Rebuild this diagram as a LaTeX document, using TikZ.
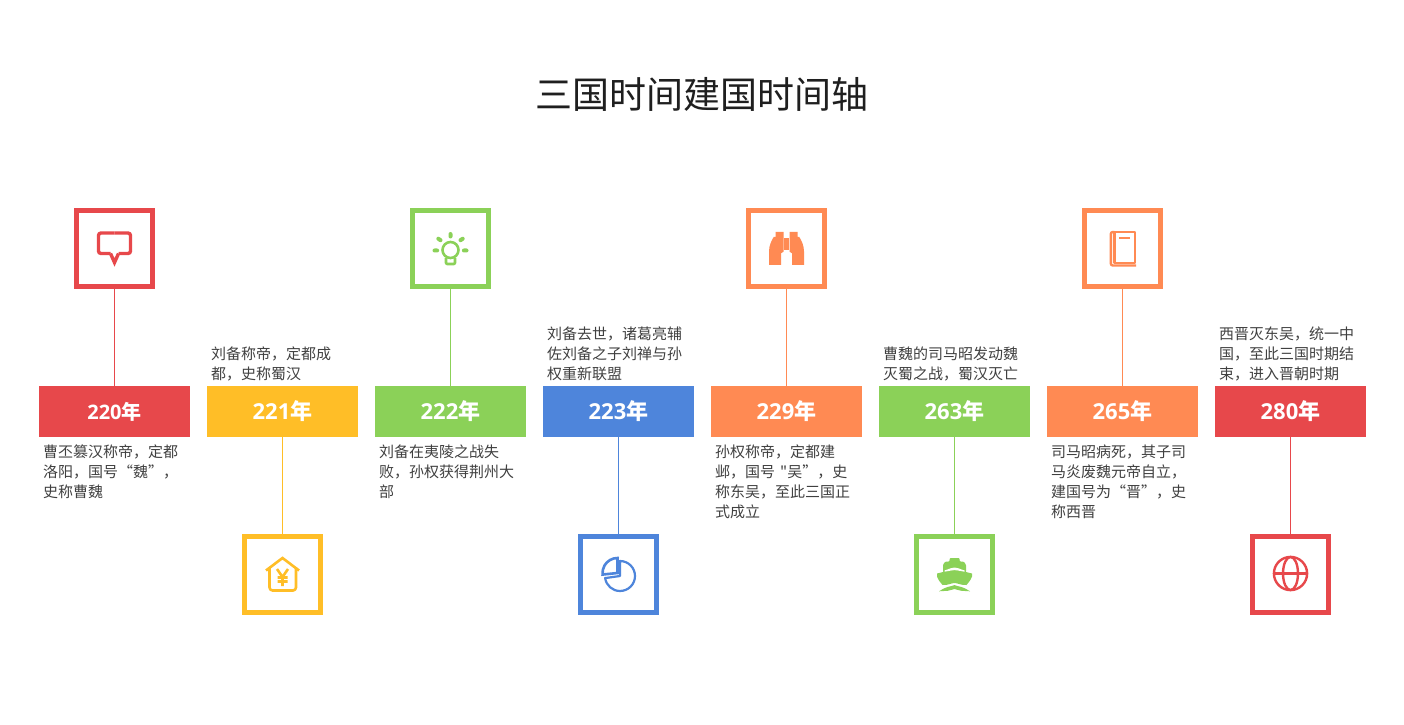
\documentclass[tikz,border=0pt]{standalone}
\usepackage{fontspec}
\setmainfont{Noto Sans CJK SC}[Ligatures=TeXOff]
\newfontfamily\shuzi{Open Sans}
\usepackage{tikz}
\definecolor{hong}{HTML}{E7484B}
\definecolor{huang}{HTML}{FFBE27}
\definecolor{lv}{HTML}{8BD158}
\definecolor{lan}{HTML}{4E85DB}
\definecolor{cheng}{HTML}{FF8A53}
\definecolor{wenzi}{HTML}{404040}
\tikzset{
  iconbox/.style={draw=#1,line width=5pt,minimum size=76pt,inner sep=0pt,fill=white},
  yearbox/.style={fill=#1,minimum width=151pt,minimum height=51pt,inner sep=0pt,outer sep=0pt,
    text=white,font=\fontsize{22}{26}\selectfont\bfseries},
  desc/.style={inner sep=0pt,align=left,text=wenzi,font=\fontsize{15}{20}\selectfont},
  stem/.style={draw=#1,line width=1pt},
  iconline/.style={draw=#1,line width=2.6pt,line join=round,fill=none}
}
\begin{document}
\begin{tikzpicture}[x=1pt,y=1pt]
      \useasboundingbox (0,0) rectangle (1404,724);
      \node (title) at (701.5,630) [text=black!88,font=\fontsize{37}{44}\selectfont] {三国时间建国时间轴};
      % year boxes
      \node[yearbox=hong,font=\fontsize{20}{24}\selectfont\bfseries] (y220) at (114.5,312.5) {{\shuzi 220}年};
      \node[yearbox=huang] (y221) at (282.5,312.5) {{\shuzi 221}年};
      \node[yearbox=lv] (y222) at (450.5,312.5) {{\shuzi 222}年};
      \node[yearbox=lan] (y223) at (618.5,312.5) {{\shuzi 223}年};
      \node[yearbox=cheng] (y229) at (786.5,312.5) {{\shuzi 229}年};
      \node[yearbox=lv] (y263) at (954.5,312.5) {{\shuzi 263}年};
      \node[yearbox=cheng] (y265) at (1122.5,312.5) {{\shuzi 265}年};
      \node[yearbox=hong] (y280) at (1290.5,312.5) {{\shuzi 280}年};
      % icon boxes
      \node[iconbox=hong] (b220) at (114.5,475.5) {};
      \node[iconbox=huang] (b221) at (282.5,149.5) {};
      \node[iconbox=lv] (b222) at (450.5,475.5) {};
      \node[iconbox=lan] (b223) at (618.5,149.5) {};
      \node[iconbox=cheng] (b229) at (786.5,475.5) {};
      \node[iconbox=lv] (b263) at (954.5,149.5) {};
      \node[iconbox=cheng] (b265) at (1122.5,475.5) {};
      \node[iconbox=hong] (b280) at (1290.5,149.5) {};
      % stems
      \draw[stem=hong] (b220.south) -- (y220.north);
      \draw[stem=huang] (y221.south) -- (b221.north);
      \draw[stem=lv] (b222.south) -- (y222.north);
      \draw[stem=lan] (y223.south) -- (b223.north);
      \draw[stem=cheng] (b229.south) -- (y229.north);
      \draw[stem=lv] (y263.south) -- (b263.north);
      \draw[stem=cheng] (b265.south) -- (y265.north);
      \draw[stem=hong] (y280.south) -- (b280.north);
      % texts
      \node[desc,anchor=north west] (t220) at (43,279) {曹丕篡汉称帝，定都\\洛阳，国号“魏”，\\史称曹魏};
      \node[desc,anchor=south west] (t221) at (211,343) {刘备称帝，定都成\\都，史称蜀汉};
      \node[desc,anchor=north west] (t222) at (379,279) {刘备在夷陵之战失\\败，孙权获得荆州大\\部};
      \node[desc,anchor=south west] (t223) at (547,343) {刘备去世，诸葛亮辅\\佐刘备之子刘禅与孙\\权重新联盟};
      \node[desc,anchor=north west] (t229) at (715,279) {孙权称帝，定都建\\邺，国号\hspace{5pt}"吴”，史\\称东吴，至此三国正\\式成立};
      \node[desc,anchor=south west] (t263) at (883,343) {曹魏的司马昭发动魏\\灭蜀之战，蜀汉灭亡};
      \node[desc,anchor=north west] (t265) at (1051,279) {司马昭病死，其子司\\马炎废魏元帝自立，\\建国号为“晋”，史\\称西晋};
      \node[desc,anchor=south west] (t280) at (1219,343) {西晋灭东吴，统一中\\国，至此三国时期结\\束，进入晋朝时期};
      % speech bubble
      \begin{scope}[shift={(b220.center)}]
        \draw[iconline=hong,line width=3.4pt,rounded corners=2.5pt] (0,15.5) -- (16,15.5) -- (16,-5) -- (4,-5);
        \draw[iconline=hong,line width=3.4pt,rounded corners=2.5pt] (-4,-5) -- (-16,-5) -- (-16,15.5) -- (0,15.5);
        \draw[iconline=hong,line width=3.4pt,miter limit=10,line join=miter] (-4,-5) -- (0,-14) -- (4,-5);
      \end{scope}
      % house
      \begin{scope}[shift={(b221.center)}]
        \draw[iconline=huang,line join=miter] (-16.5,4) -- (0,16.5) -- (16.5,4);
        \draw[iconline=huang,rounded corners=3pt] (-13,7) -- (-13,-16) -- (13.5,-16) -- (13.5,7);
        \draw[iconline=huang] (-5.5,5.5) -- (0,-2.5) -- (5.5,5.5) (0,-2.5) -- (0,-11.5)
          (-5,-3) -- (5,-3) (-5,-7) -- (5,-7);
      \end{scope}
      % bulb
      \begin{scope}[shift={(b222.center)}]
        \draw[iconline=lv] (0,-1.5) circle (8);
        \draw[iconline=lv,rounded corners=1pt] (-4.5,-9.5) -- (-4.5,-15.5) -- (4.5,-15.5) -- (4.5,-9.5);
        \draw[iconline=lv,line width=4pt,line cap=round] (0,12) -- (0,14.5) (-16,-2) -- (-13.4,-2) (16,-2) -- (13.4,-2)
          (-12.2,9.8) -- (-10,8.3) (12.2,9.8) -- (10,8.3);
      \end{scope}
      % pie
      \begin{scope}[shift={(b223.center)}]
        \draw[iconline=lan,line width=2.2pt] (1.5,13.5) arc[start angle=90,end angle=-172,radius=15] -- (1.5,-1.5) -- cycle;
        \draw[iconline=lan,line join=miter] (-1,1.5) -- (-1,16.5) arc[start angle=90,end angle=186,radius=15] -- cycle;
      \end{scope}
      % binoculars
      \begin{scope}[shift={(b229.center)}]
        \fill[cheng] (-17.5,-16.5) -- (-17.5,-3) .. controls (-17.5,3) and (-15,8) .. (-12.8,11.5) -- (-11,11.5) -- (-11,16.5) -- (-3,16.5)
          -- (-3,-3.2) -- (-5.5,-4.8) -- (-5.5,-16.5) -- cycle;
        \fill[cheng] (17.5,-16.5) -- (17.5,-3) .. controls (17.5,3) and (15,8) .. (12.8,11.5) -- (11,11.5) -- (11,16.5) -- (3,16.5)
          -- (3,-3.2) -- (5.5,-4.8) -- (5.5,-16.5) -- cycle;
        \fill[cheng] (-2.5,10) rectangle (2.5,-2);
      \end{scope}
      % ship
      \begin{scope}[shift={(b263.center)}]
        \fill[lv,rounded corners=1pt] (-5,16.5) -- (5,16.5) -- (5,13) -- (9,13) -- (11.5,10) -- (11.5,2) -- (-11.5,2) -- (-11.5,10) -- (-9,13) -- (-5,13) -- cycle;
        \fill[lv] (-17.5,1) .. controls (-9,3) and (-4,4.5) .. (0,4.5) .. controls (4,4.5) and (9,3) .. (17.5,1)
          -- (17.5,-2) .. controls (16,-6) and (14,-8) .. (12,-10.5) .. controls (7,-11) and (3,-8.5) .. (0,-8.5)
          .. controls (-3,-8.5) and (-7,-11) .. (-12,-10.5) .. controls (-14,-8) and (-16,-6) .. (-17.5,-2) -- cycle;
        \fill[white] (-10,2.8) -- (-10,4) .. controls (-5,5.6) and (-3,7) .. (0,7) .. controls (3,7) and (5,5.6) .. (10,4) -- (10,2.8) .. controls (4,3.8) and (2,4.4) .. (0,4.4) .. controls (-2,4.4) and (-4,3.8) .. (-10,2.8) -- cycle;
        \fill[lv] (-15.5,-16.8) .. controls (-12,-15.5) and (-10,-12.5) .. (-7,-12.5) .. controls (-4,-12.5) and (-2,-10.6) .. (0,-10.6)
          .. controls (2,-10.6) and (4,-12.5) .. (7,-12.5) .. controls (10,-12.5) and (12,-15.5) .. (15.5,-16.8)
          -- (7,-16.3) .. controls (4,-16.3) and (2,-14.5) .. (0,-14.5) .. controls (-2,-14.5) and (-4,-16.3) .. (-7,-16.3) -- cycle;
      \end{scope}
      % book
      \begin{scope}[shift={(b265.center)}]
        \draw[iconline=cheng,line width=2.4pt] (-8.2,-14.5) rectangle (12.5,16.5);
        \draw[iconline=cheng,line width=2.4pt,rounded corners=2pt] (-8.2,16.5) -- (-11.7,16.5) -- (-11.7,-17) -- (13.5,-17);
        \draw[iconline=cheng,line width=1.8pt] (-3.5,10.5) -- (7.5,10.5);
      \end{scope}
      % globe
      \begin{scope}[shift={(b280.center)}]
        \draw[iconline=hong,line width=2.4pt] (0,1) circle (16.6);
        \draw[iconline=hong,line width=2.4pt] (0,1) ellipse (7.5 and 16.6);
        \draw[iconline=hong,line width=2.4pt] (-16.6,1) -- (16.6,1);
      \end{scope}
\end{tikzpicture}
\end{document}
